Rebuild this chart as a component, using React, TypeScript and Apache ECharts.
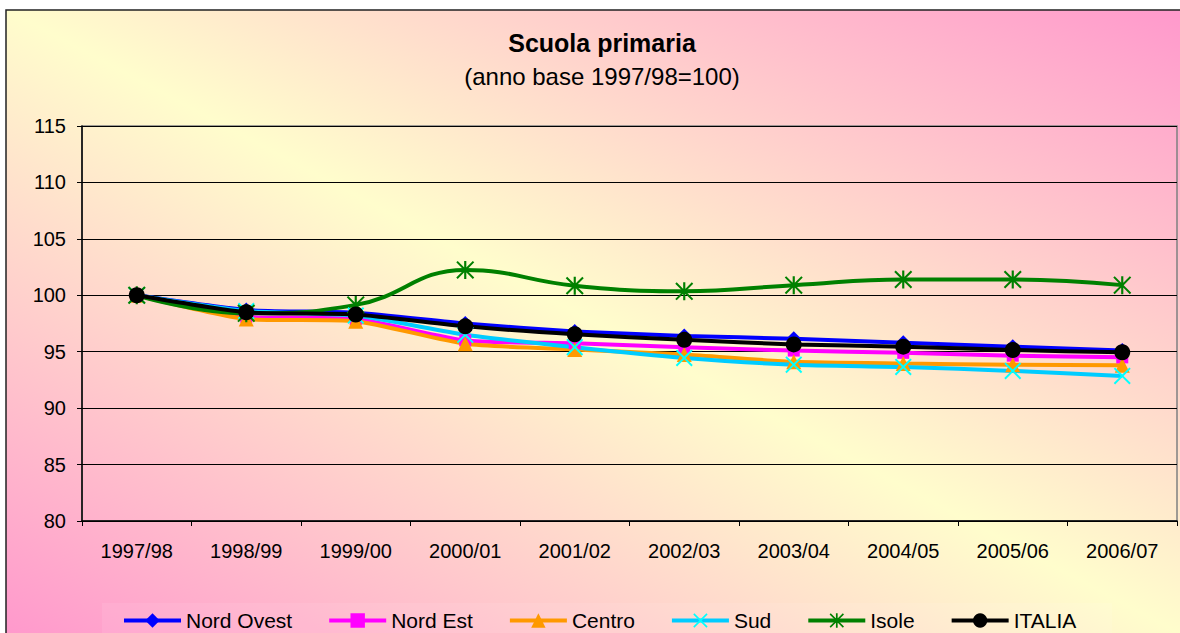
import React, { useEffect, useRef } from 'react';
import * as echarts from 'echarts';

const categories = ['1997/98', '1998/99', '1999/00', '2000/01', '2001/02', '2002/03', '2003/04', '2004/05', '2005/06', '2006/07'];
const nordOvest = [100, 98.7, 98.45, 97.5, 96.8, 96.4, 96.15, 95.8, 95.45, 95.1];
const nordEst = [100, 98.1, 97.9, 96.0, 95.75, 95.4, 95.1, 94.9, 94.65, 94.5];
const centro = [100, 97.9, 97.7, 95.7, 95.2, 94.75, 94.1, 93.95, 93.85, 93.8];
const sud = [100, 98.6, 98.2, 96.5, 95.4, 94.45, 93.85, 93.65, 93.3, 92.85];
const isole = [100, 98.4, 99.15, 102.25, 100.85, 100.35, 100.9, 101.4, 101.4, 100.9];
const italia = [100, 98.5, 98.3, 97.25, 96.55, 96.05, 95.65, 95.45, 95.15, 94.95];
const yTicks = { min: 80, max: 115, interval: 5 };
const titleText = 'Scuola primaria';
const subtitleText = '(anno base 1997/98=100)';

const FONT = '"Liberation Sans", Arial, sans-serif';
const X_PATH = 'path://M0,0.8 L0.8,0 L5,4.2 L9.2,0 L10,0.8 L5.8,5 L10,9.2 L9.2,10 L5,5.8 L0.8,10 L0,9.2 L4.2,5 Z';
const STAR_PATH = 'path://M0,0.8 L0.8,0 L5,4.2 L9.2,0 L10,0.8 L5.8,5 L10,9.2 L9.2,10 L5,5.8 L0.8,10 L0,9.2 L4.2,5 Z M4.4,0 L5.6,0 L5.6,10 L4.4,10 Z';

export default function App() {
  const ref = useRef<HTMLDivElement>(null);
  useEffect(() => {
    const chart = echarts.init(ref.current!, null, { renderer: 'svg' });
    const W = 1174, H = 623;
    const mk = (name: string, data: number[], lineColor: string, markColor: string, symbol: string, size: any, smooth: number) => ({
      name,
      type: 'line',
      data,
      smooth,
      symbol,
      symbolSize: size,
      lineStyle: { color: lineColor, width: 4 },
      itemStyle: { color: markColor },
      emphasis: { disabled: true },
    });
    const option: any = {
      animation: false,
      textStyle: { fontFamily: FONT },
      graphic: [
        {
          type: 'rect',
          z: -100,
          shape: { x: 6, y: 10, width: W + 20, height: H + 20 },
          style: {
            fill: {
              type: 'linear',
              x: 6 + 329, y: 10 + 797, x2: 6 + 845, y2: 10 - 174,
              global: true,
              colorStops: [
                { offset: 0, color: '#FF99CC' },
                { offset: 0.5, color: '#FFFDCC' },
                { offset: 1, color: '#FF99CC' },
              ],
            },
            stroke: '#222',
            lineWidth: 1.5,
          },
        },
        {
          type: 'rect',
          z: -90,
          shape: { x: 102, y: 603, width: 1010, height: 40 },
          style: { fill: 'rgba(255,255,255,0.08)' },
        },
        {
          type: 'text',
          z: 100,
          x: 602,
          y: 42.5,
          style: { text: titleText, font: `bold 25px ${FONT}`, fill: '#000', textAlign: 'center', textVerticalAlign: 'middle' },
        },
        {
          type: 'text',
          z: 100,
          x: 602,
          y: 76,
          style: { text: subtitleText, font: `24px ${FONT}`, fill: '#000', textAlign: 'center', textVerticalAlign: 'middle' },
        },
      ],
      grid: {
        left: 82, right: 3, top: 126, bottom: 112,
        show: true, borderColor: '#808080', borderWidth: 1.5, backgroundColor: 'transparent',
      },
      legend: {
        left: 122,
        top: 610,
        itemWidth: 57,
        itemHeight: 18,
        itemGap: 35,
        padding: 0,
        lineStyle: { width: 4 },
        textStyle: { fontSize: 21, color: '#000', fontFamily: FONT },
        data: ['Nord Ovest', 'Nord Est', 'Centro', 'Sud', 'Isole', 'ITALIA'],
      },
      xAxis: {
        type: 'category',
        data: categories,
        boundaryGap: true,
        axisLine: { lineStyle: { color: '#000', width: 1.5 } },
        axisTick: { show: true, length: 5, lineStyle: { color: '#000' } },
        axisLabel: { fontSize: 20, color: '#000', margin: 20, interval: 0, fontFamily: FONT },
        splitLine: { show: false },
      },
      yAxis: {
        type: 'value',
        min: yTicks.min,
        max: yTicks.max,
        interval: yTicks.interval,
        axisLine: { show: true, lineStyle: { color: '#000', width: 1.5 } },
        axisTick: { show: true, length: 5, lineStyle: { color: '#000' } },
        axisLabel: { fontSize: 20, color: '#000', margin: 16, fontFamily: FONT },
        splitLine: { show: true, lineStyle: { color: '#000', width: 1 } },
      },
      series: [
        mk('Nord Ovest', nordOvest, '#0000FF', '#0000FF', 'diamond', 15, 0.2),
        mk('Nord Est', nordEst, '#FF00FF', '#FF00FF', 'rect', 12, 0.2),
        mk('Centro', centro, '#FF9900', '#FF9900', 'triangle', 15, 0.2),
        mk('Sud', sud, '#00CCFF', '#00FFFF', X_PATH, 17, 0.2),
        mk('Isole', isole, '#008000', '#008000', STAR_PATH, 18, 0.45),
        mk('ITALIA', italia, '#000000', '#000000', 'circle', 16, 0.2),
      ],
    };
    chart.setOption(option);
    return () => chart.dispose();
  }, []);
  return <div ref={ref} style={{ position: 'absolute', left: 0, top: 0, width: 1180, height: 633 }} />;
}
